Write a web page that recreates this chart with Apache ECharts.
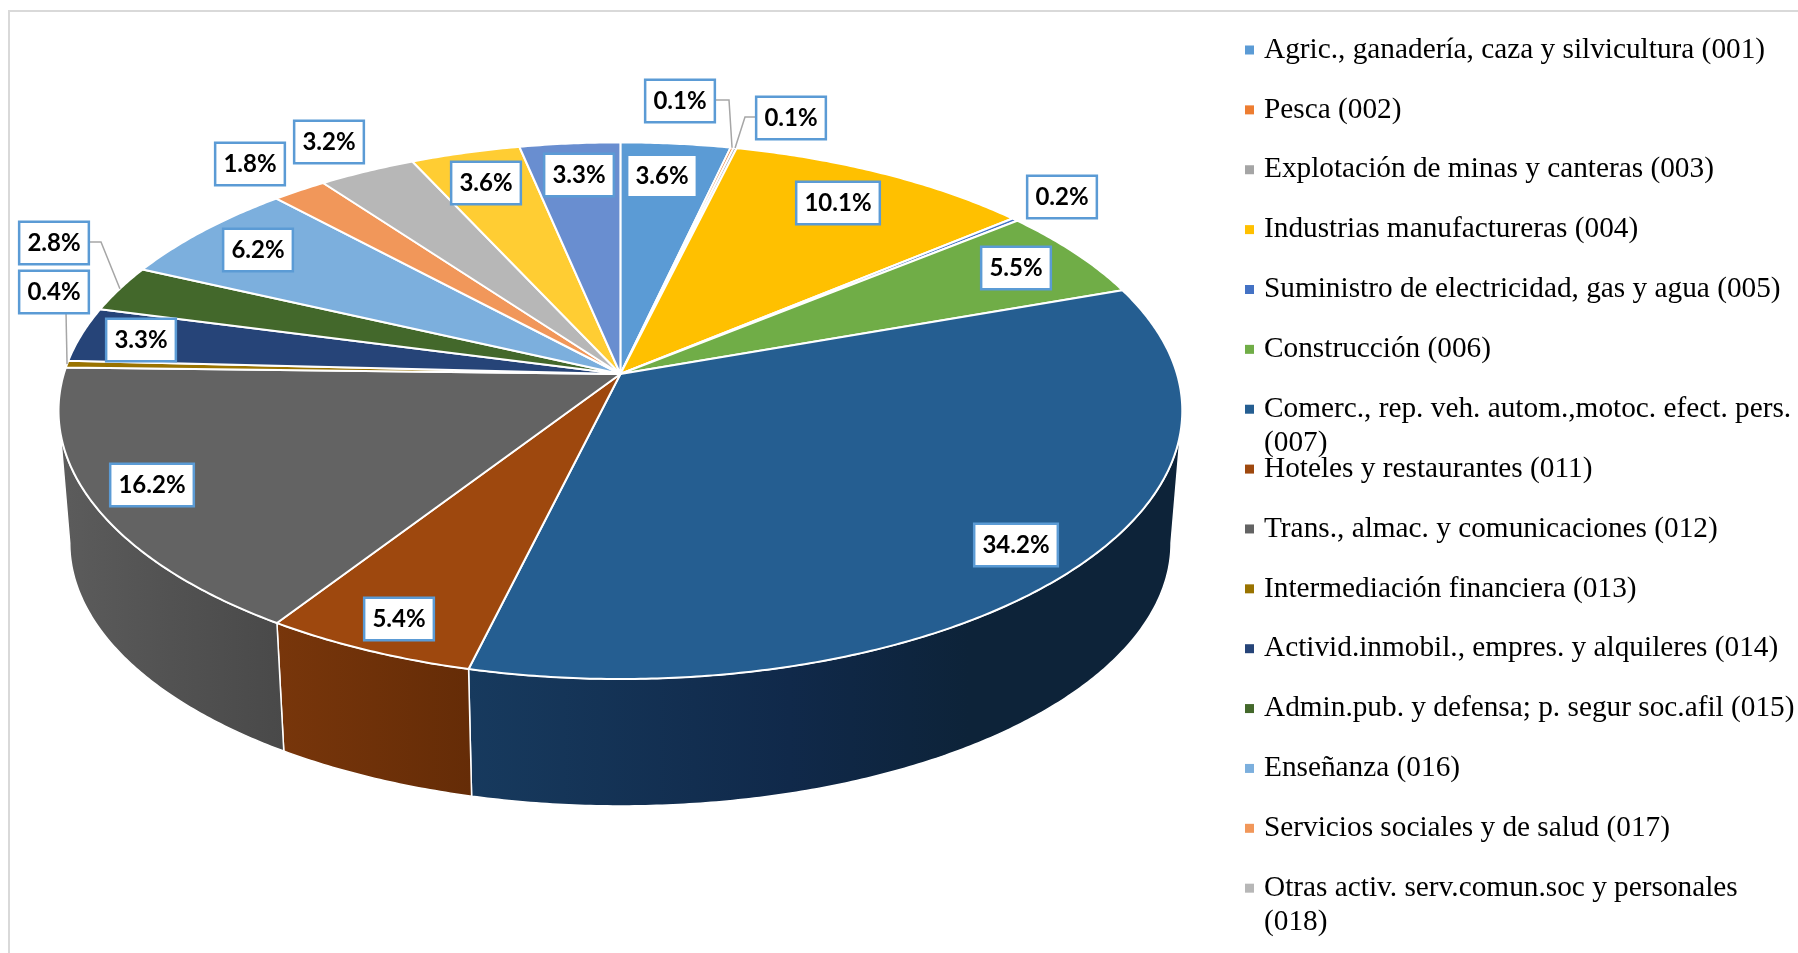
<!DOCTYPE html>
<html>
<head>
<meta charset="utf-8">
<style>
  html, body { margin: 0; padding: 0; background: #fff; }
  #main { width: 1798px; height: 953px; }
</style>
</head>
<body>
<div id="main"></div>
<script src="https://cdn.jsdelivr.net/npm/echarts@6/dist/echarts.min.js"></script>
<script>
// las dos ultimas categorias quedan fuera del recorte de la leyenda
var categories = [
  'Agric., ganadería, caza y silvicultura (001)',
  'Pesca (002)',
  'Explotación de minas y canteras (003)',
  'Industrias manufactureras (004)',
  'Suministro de electricidad, gas y agua (005)',
  'Construcción (006)',
  'Comerc., rep. veh. autom.,motoc. efect. pers. (007)',
  'Hoteles y restaurantes (011)',
  'Trans., almac. y comunicaciones (012)',
  'Intermediación financiera (013)',
  'Activid.inmobil., empres. y alquileres (014)',
  'Admin.pub. y defensa; p. segur soc.afil (015)',
  'Enseñanza (016)',
  'Servicios sociales y de salud (017)',
  'Otras activ. serv.comun.soc y personales (018)',
  'Sin rótulo A',
  'Sin rótulo B'
];
var values = [3.6, 0.1, 0.1, 10.1, 0.2, 5.5, 34.2, 5.4, 16.2, 0.4, 3.3, 2.8, 6.2, 1.8, 3.2, 3.6, 3.3];
var visibleLegend = 15;
// filas de la leyenda cuyo codigo pasa a la linea siguiente
var wrappedRows = [6, 14];

var sliceColors = ['#5b9bd5', '#ed7d31', '#a5a5a5', '#ffc000', '#4472c4', '#70ad47', '#255e91', '#9e480e',
  '#636363', '#997300', '#264478', '#43682b', '#7cafdd', '#f1975a', '#b7b7b7', '#ffcd33', '#698ed0'];

// solo las porciones delanteras muestran pared
var wallShades = {
  6: [[0, '#173a5e'], [0.45, '#10294a'], [0.7, '#0d2339'], [1, '#0d2339']],
  7: [[0, '#78360b'], [1, '#652c07']],
  8: [[0, '#5c5c5c'], [0.5, '#525252'], [1, '#494949']]
};

// centro de cada etiqueta, colocadas a mano como en el original
var labelPlaces = [[662, 175], [680, 100], [791, 117], [838, 202], [1062, 196], [1016, 267], [1016, 544], [399, 618],
  [152, 484], [54, 291], [141, 339], [54, 242], [258, 249], [250, 163], [329, 141], [486, 182], [579, 174]];
// lineas guia: desde la caja hasta el borde de la porcion
var leaders = {
  1: [[716, 100], [729, 100]],
  2: [[755, 117], [745, 117]],
  9: [[66, 312]],
  11: [[90, 242], [101, 242]]
};

// perspectiva del disco
var cx = 620.4, cy = 374, rx = 556.6, ry = 263.3, persp = 0.1368;
var depth = 133, bottomScale = 0.98;
// angulo donde el borde del disco es tangente a la silueta lateral
var tangentDeg = Math.acos(-persp) * 180 / Math.PI;

// leyenda
var legendTop = 33, rowStep = 59.87, rowHeight = 34, legendTextX = 1264;

var cumulative = [];
values.reduce(function (sum, v, i) {
  cumulative[i] = sum;
  return sum + v;
}, 0);

function project(deg, scale, drop) {
  var th = deg * Math.PI / 180;
  var X = Math.sin(th), Y = -Math.cos(th);
  var w = 1 - persp * Y;
  return [cx + scale * rx * X / w, cy + drop + scale * ry * Y / w];
}

function rimPoints(a0, a1, scale, drop) {
  var pts = [];
  var n = Math.max(2, Math.ceil((a1 - a0) / 0.5));
  for (var i = 0; i <= n; i++) {
    pts.push(project(a0 + (a1 - a0) * i / n, scale, drop));
  }
  return pts;
}

function renderSlice(params, api) {
  var i = params.seriesIndex;
  var a0 = cumulative[i] * 3.6;
  var a1 = (cumulative[i] + api.value(0)) * 3.6;
  var children = [];

  if (wallShades[i]) {
    var w0 = Math.max(a0, tangentDeg), w1 = Math.min(a1, 360 - tangentDeg);
    var wall = rimPoints(w0, w1, 1, 0).concat(rimPoints(w0, w1, bottomScale, depth).reverse());
    children.push({
      type: 'polygon',
      z2: 10 + i,
      shape: { points: wall },
      style: {
        fill: new echarts.graphic.LinearGradient(0, 0, 1, 0, wallShades[i].map(function (s) {
          return { offset: s[0], color: s[1] };
        })),
        stroke: '#fff',
        lineWidth: 1.5
      }
    });
  }

  children.push({
    type: 'polygon',
    z2: 100,
    shape: { points: [[cx, cy]].concat(rimPoints(a0, a1, 1, 0)) },
    style: { fill: sliceColors[i], stroke: '#fff', lineWidth: 2, lineJoin: 'round' }
  });

  if (leaders[i]) {
    children.push({
      type: 'polyline',
      z2: 900,
      shape: { points: leaders[i].concat([project((a0 + a1) / 2, 1, 0)]) },
      style: { fill: null, stroke: '#a6a6a6', lineWidth: 1.5 }
    });
  }

  children.push({
    type: 'text',
    z2: 1000,
    style: {
      text: api.value(0).toFixed(1) + '%',
      x: labelPlaces[i][0],
      y: labelPlaces[i][1] + 1,
      align: 'center',
      verticalAlign: 'middle',
      fill: '#000',
      font: 'bold 24px Lato',
      lineHeight: 28,
      backgroundColor: '#fff',
      borderColor: '#5b9bd5',
      borderWidth: 2.5,
      padding: [6, 7]
    }
  });

  return { type: 'group', children: children };
}

function splitCode(name) {
  var cut = name.lastIndexOf(' (');
  return [name.slice(0, cut), name.slice(cut + 1)];
}

var legendFont = { fontFamily: 'Liberation Serif', fontSize: 29.3, color: '#000' };

var myChart = echarts.init(document.getElementById('main'));
myChart.setOption({
  animation: false,
  backgroundColor: '#fff',
  graphic: [{
    type: 'rect',
    silent: true,
    shape: { x: 9, y: 11, width: 2000, height: 1200 },
    style: { fill: 'none', stroke: '#d9d9d9', lineWidth: 2 }
  }].concat(wrappedRows.map(function (row) {
    return {
      type: 'text',
      silent: true,
      style: {
        text: splitCode(categories[row])[1],
        x: legendTextX,
        y: legendTop + rowHeight / 2 + row * rowStep + rowHeight,
        verticalAlign: 'middle',
        font: legendFont.fontSize + 'px "' + legendFont.fontFamily + '"',
        fill: legendFont.color
      }
    };
  })),
  legend: {
    orient: 'vertical',
    left: 1245,
    top: legendTop,
    padding: 0,
    icon: 'rect',
    itemWidth: 9,
    itemHeight: 9,
    itemGap: rowStep - rowHeight,
    selectedMode: false,
    data: categories.slice(0, visibleLegend),
    formatter: function (name) {
      return wrappedRows.indexOf(categories.indexOf(name)) >= 0 ? splitCode(name)[0] : name;
    },
    textStyle: {
      fontFamily: legendFont.fontFamily,
      fontSize: legendFont.fontSize,
      color: legendFont.color,
      lineHeight: rowHeight,
      padding: [0, 0, 0, 5]
    }
  },
  series: categories.map(function (name, i) {
    return {
      type: 'custom',
      name: name,
      coordinateSystem: 'none',
      silent: true,
      itemStyle: { color: sliceColors[i] },
      renderItem: renderSlice,
      data: [values[i]]
    };
  })
});
</script>
</body>
</html>
